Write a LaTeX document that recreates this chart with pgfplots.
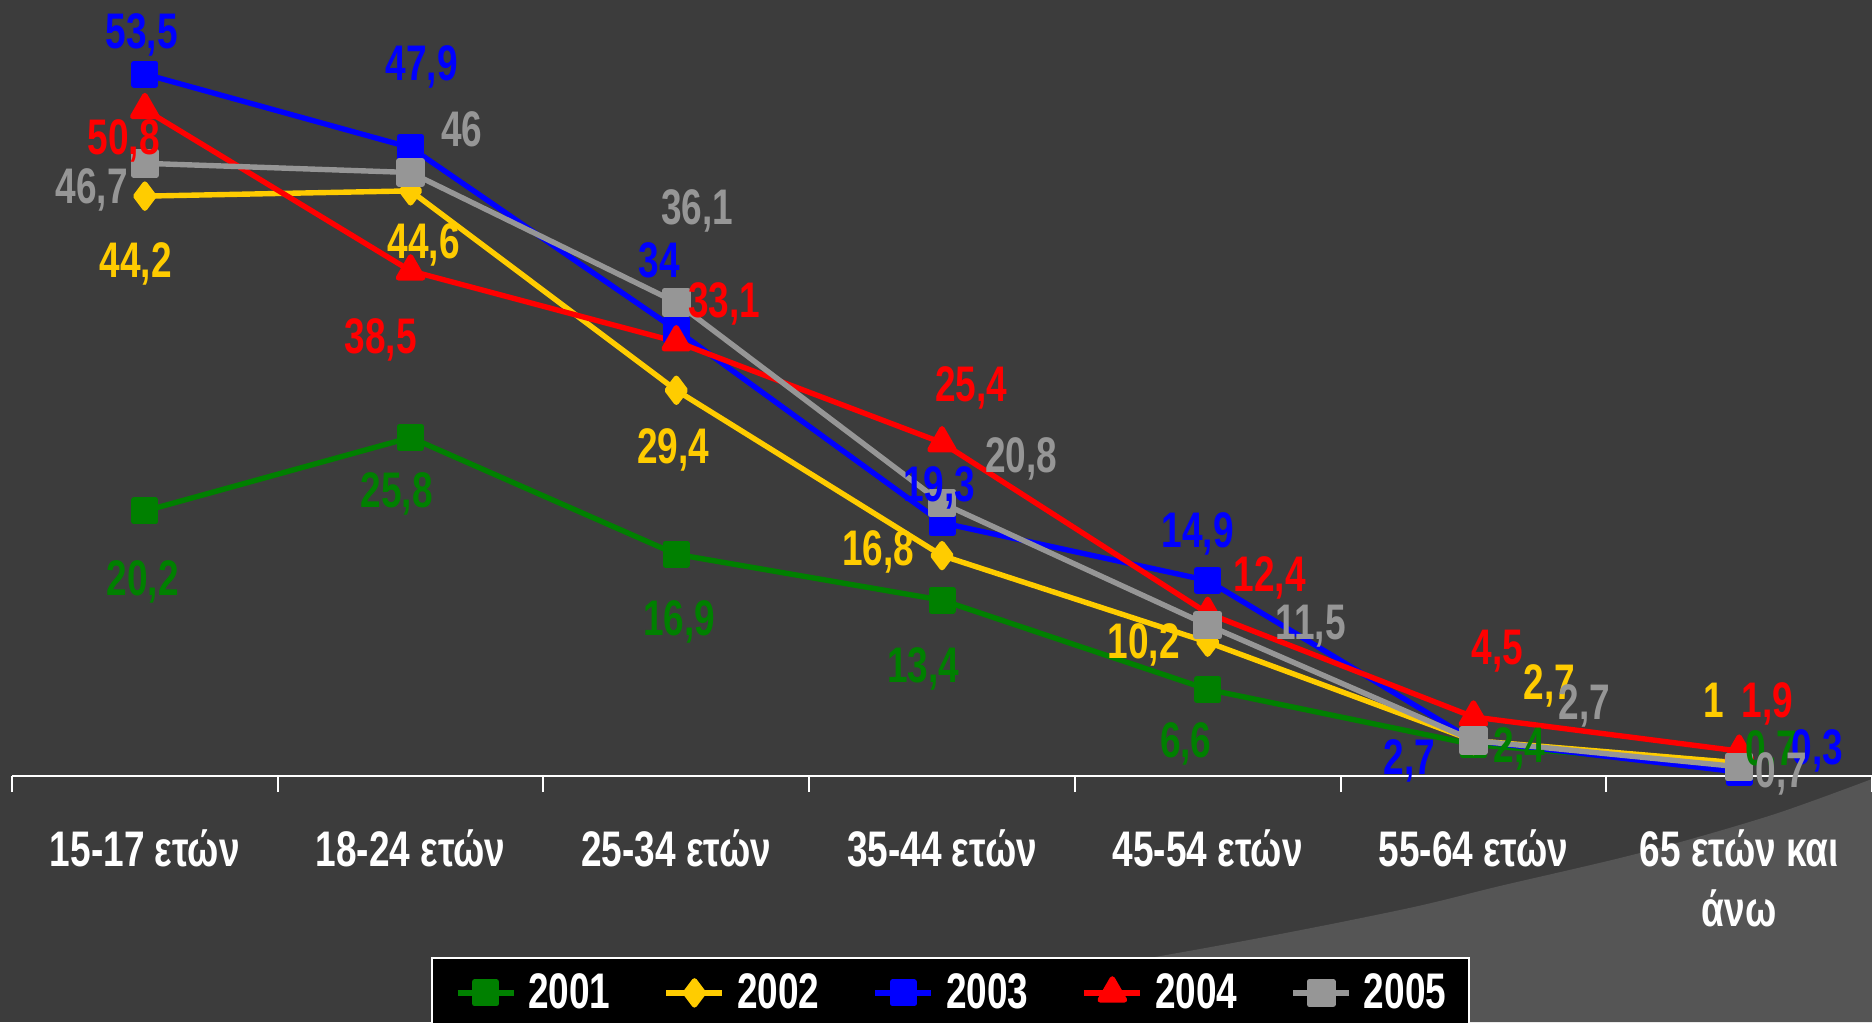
\documentclass[border=0pt]{standalone}
\usepackage{fontspec}
\setmainfont{Liberation Sans}[FakeStretch=0.74]
\usepackage{pgfplots}
\usepackage{pgfplotstable}
\pgfplotsset{compat=1.18}
\definecolor{bgc}{HTML}{3C3C3C}
\definecolor{swc}{HTML}{555555}
\definecolor{cG}{HTML}{008000}
\definecolor{cY}{HTML}{FFCC00}
\definecolor{cB}{HTML}{0000FF}
\definecolor{cR}{HTML}{FF0000}
\definecolor{cS}{HTML}{969696}
\newcommand\lblfont{\bfseries\fontsize{25}{30}\selectfont}

% x = category index, y = value, lab = printed label, dx/dy = label offset (pt)
\pgfplotstableread{
x y lab dx dy
0 20.2 20,2 -1 -33.5
1 25.8 25,8 -7 -26
2 16.9 16,9 1.5 -31.5
3 13.4 13,4 -9.5 -32
4 6.6 6,6 -11 -25
5 2.4 2,4 23 0
6 0.7 0,7 16 9.5
}\tA
\pgfplotstableread{
x y lab dx dy
0 44.2 44,2 -4.5 -31.5
1 44.6 44,6 6.5 -25
2 29.4 29,4 -1.5 -27.5
3 16.8 16,8 -32 4
4 10.2 10,2 -32 1
5 2.7 2,7 38 29.5
6 1 1 -12.5 31.5
}\tB
\pgfplotstableread{
x y lab dx dy
0 53.5 53,5 -1.5 22
1 47.9 47,9 5.5 42.5
2 34 34 -8.5 35
3 19.3 19,3 -1.5 19.5
4 14.9 14,9 -5 25.5
5 2.7 2,7 -32 -8
6 0.3 0,3 39 12.5
}\tC
\pgfplotstableread{
x y lab dx dy
0 50.8 50,8 -10.5 -13.5
1 38.5 38,5 -15 -32.5
2 33.1 33,1 24 21
3 25.4 25,4 14.5 29.5
4 12.4 12,4 31 20
5 4.5 4,5 12 35
6 1.9 1,9 14 25.5
}\tD
\pgfplotstableread{
x y lab dx dy
0 46.7 46,7 -26.5 -11
1 46 46 25.5 22
2 36.1 36,1 10.5 48
3 20.8 20,8 39.5 24.5
4 11.5 11,5 51.5 2
5 2.7 2,7 55.5 19.5
6 0.7 0,7 21 -1.5
}\tE

\newcommand\lbl[2]{%
  \addplot[draw=none, forget plot, nodes near coords,
    point meta=explicit symbolic,
    visualization depends on={\thisrow{dx}\as\ldx},
    visualization depends on={\thisrow{dy}\as\ldy},
    nodes near coords style={text=#2, font=\lblfont, anchor=center,
      inner sep=0pt, text height=17.9pt, text depth=0pt,
      xshift=\ldx pt, yshift=\ldy pt}]
    table[x=x, y=y, meta=lab] {#1};
}

\begin{document}
\begin{tikzpicture}
\useasboundingbox (0,0) rectangle (936pt,511pt);
\clip (0,0) rectangle (936pt,511pt);
\fill[bgc] (0,0) rectangle (936pt,511pt);
\fill[swc] plot[smooth] coordinates {(390pt,0pt) (600pt,36.5pt) (700pt,56pt) (750pt,68pt) (820pt,84.5pt) (886pt,103.5pt) (940pt,123pt)} -- (940pt,0pt) -- cycle;
\begin{axis}[
  at={(6pt,123pt)}, anchor=south west,
  width=930pt, height=388pt, scale only axis,
  xmin=-0.5, xmax=6.5, ymin=0, ymax=59.15,
  axis x line*=bottom, axis y line=none,
  x axis line style={white, line width=1.2pt, -},
  ytick=\empty,
  xtick={0,...,6},
  xticklabels={{15-17 ετών},{18-24 ετών},{25-34 ετών},{35-44 ετών},{45-54 ετών},{55-64 ετών},{65 ετών και\\άνω}},
  major tick length=0pt,
  minor xtick={-0.5,0.5,1.5,2.5,3.5,4.5,5.5,6.5},
  minor tick length=8pt,
  tick align=outside,
  minor tick style={white, line width=1pt},
  xticklabel style={text=white, font=\bfseries\fontsize{25}{30}\selectfont, align=center, anchor=north, inner sep=0pt, yshift=-26.5pt},
  clip=false,
  legend columns=5,
  legend style={at={(0.5046,-0.2332)}, anchor=north, fill=black, draw=white, line width=1pt,
    text=white, font=\bfseries\fontsize{25}{30}\selectfont,
    inner xsep=11.3pt, inner ysep=8pt, nodes={inner sep=0pt},
    /tikz/every odd column/.append style={column sep=6pt},
    /tikz/every even column/.append style={column sep=26.6pt}},
  legend image code/.code={\draw[mark repeat=2,mark phase=2,#1] plot coordinates {(0pt,0pt) (14pt,0pt) (28pt,0pt)};},
  legend entries={2001,2002,2003,2004,2005},
]
\addplot[cG, line width=2.7pt, line join=round, mark=square*, mark size=5.4pt, mark options={fill=cG, draw=none}] table[x=x, y=y] {\tA};
\addplot[cY, line width=2.7pt, line join=round, mark=diamond*, mark size=6pt, mark options={fill=cY, draw=none}] table[x=x, y=y] {\tB};
\addplot[cB, line width=2.7pt, line join=round, mark=square*, mark size=5.4pt, mark options={fill=cB, draw=none}] table[x=x, y=y] {\tC};
\addplot[cR, line width=2.7pt, line join=round, mark=triangle*, mark size=7pt, mark options={fill=cR, draw=none}] table[x=x, y=y] {\tD};
\addplot[cS, line width=2.7pt, line join=round, mark=square*, mark size=5.8pt, mark options={fill=cS, draw=none}] table[x=x, y=y] {\tE};
\lbl{\tA}{cG}
\lbl{\tB}{cY}
\lbl{\tC}{cB}
\lbl{\tD}{cR}
\lbl{\tE}{cS}
\end{axis}
\end{tikzpicture}
\end{document}
